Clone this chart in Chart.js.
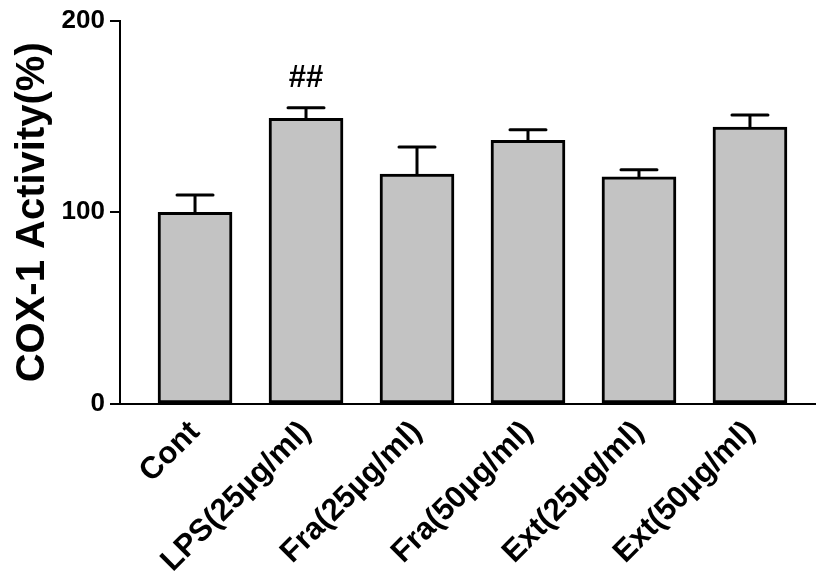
<!DOCTYPE html>
<html>
<head>
<meta charset="utf-8">
<script src="https://cdn.jsdelivr.net/npm/chart.js@4/dist/chart.umd.min.js"></script>
<style>
  html, body { margin: 0; padding: 0; background: #fff; }
  canvas { display: block; }
</style>
</head>
<body>
<canvas id="c" width="816" height="577"></canvas>
<script>
// Groups, mean COX-1 activity (% of control) and upper SEM
const categories = ['Cont', 'LPS(25µg/ml)', 'Fra(25µg/ml)', 'Fra(50µg/ml)', 'Ext(25µg/ml)', 'Ext(50µg/ml)'];
const means = [100, 149, 120, 137.5, 118.5, 144.5];
const sems = [9, 5.5, 14, 5.5, 3.7, 6.2];
const marks = ['', '##', '', '', '', ''];
const yTicks = [0, 100, 200];

const FONT = '"Liberation Sans", Arial, Helvetica, sans-serif';

// Upper error bars with caps, plus significance marks above them
const errorBars = {
  id: 'errorBars',
  afterDatasetsDraw(chart) {
    const ctx = chart.ctx;
    const meta = chart.getDatasetMeta(0);
    const ys = chart.scales.y;
    ctx.save();
    ctx.strokeStyle = '#000';
    ctx.lineWidth = 3;
    ctx.lineCap = 'round';
    meta.data.forEach((bar, i) => {
      const x = bar.x;
      const yTop = ys.getPixelForValue(means[i]);
      const yCap = ys.getPixelForValue(means[i] + sems[i]);
      ctx.beginPath();
      ctx.moveTo(x, yTop);
      ctx.lineTo(x, yCap);
      ctx.moveTo(x - 18, yCap);
      ctx.lineTo(x + 18, yCap);
      ctx.stroke();
      if (marks[i]) {
        ctx.fillStyle = '#000';
        ctx.font = 'bold 31px ' + FONT;
        ctx.textAlign = 'center';
        ctx.textBaseline = 'middle';
        ctx.fillText(marks[i], x, yCap - 29);
      }
    });
    ctx.restore();
  }
};

new Chart(document.getElementById('c'), {
  type: 'bar',
  data: {
    datasets: [{
      data: means.map((v, i) => ({ x: i, y: v })),
      backgroundColor: '#c3c3c3',
      borderColor: '#000',
      borderWidth: 3,
      borderSkipped: false,
      barThickness: 74
    }]
  },
  options: {
    responsive: false,
    animation: false,
    devicePixelRatio: 1,
    layout: { padding: { top: 20, right: 1, left: 0, bottom: 0 } },
    plugins: { legend: { display: false }, tooltip: { enabled: false } },
    scales: {
      x: {
        type: 'linear',
        offset: false,
        min: -0.676,
        max: 5.586,
        afterBuildTicks(axis) {
          axis.ticks = categories.map((_, i) => ({ value: i }));
        },
        afterFit(axis) { axis.height = 173; },
        grid: { offset: false, drawOnChartArea: false, drawTicks: false },
        border: { display: true, color: '#000', width: 2 },
        ticks: {
          autoSkip: false,
          minRotation: 45,
          maxRotation: 45,
          padding: 10,
          color: '#000',
          font: { family: FONT, size: 31, weight: 'bold' },
          callback: (v) => categories[v]
        }
      },
      y: {
        min: 0,
        max: 200,
        afterBuildTicks(axis) {
          axis.ticks = yTicks.map(v => ({ value: v }));
        },
        afterFit(axis) { axis.width = 120; },
        grid: { drawOnChartArea: false, drawTicks: true, tickLength: 10, color: '#000', lineWidth: 2 },
        border: { display: true, color: '#000', width: 2 },
        ticks: {
          padding: 5,
          color: '#000',
          font: { family: FONT, size: 26, weight: 'bold' }
        },
        title: {
          display: true,
          text: 'COX-1 Activity(%)',
          color: '#000',
          padding: { top: 9, bottom: 0 },
          font: { family: FONT, size: 40, weight: 'bold' }
        }
      }
    }
  },
  plugins: [errorBars]
});
</script>
</body>
</html>
